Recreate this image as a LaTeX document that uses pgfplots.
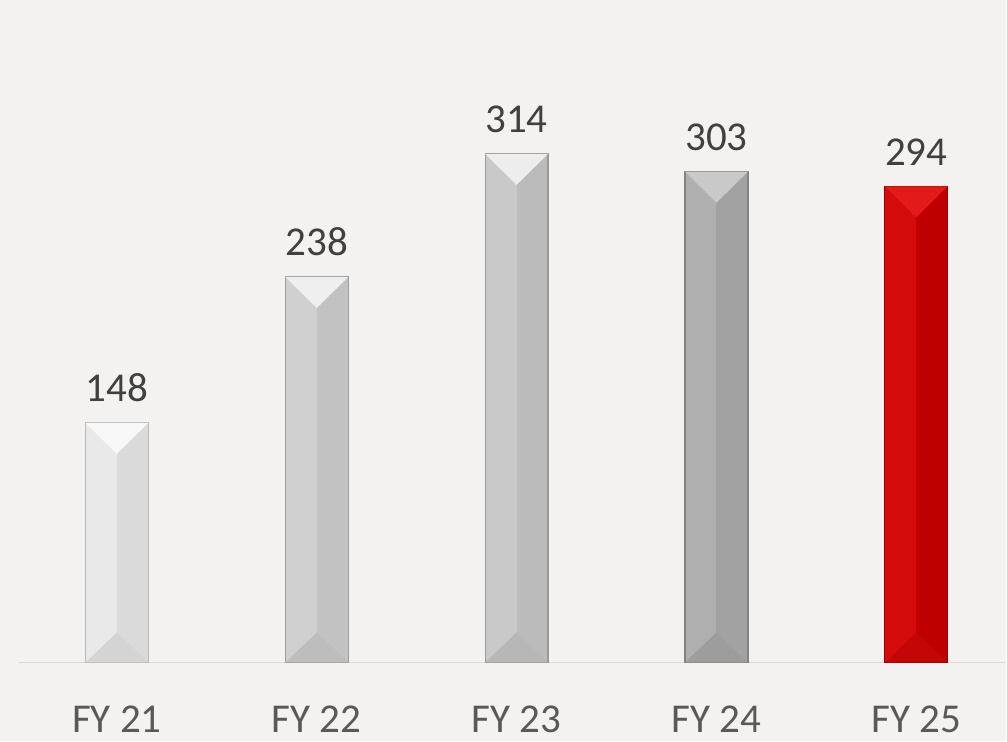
\documentclass[border=0pt]{standalone}
\usepackage{pgfplots}
\pgfplotsset{compat=1.18}
\usepackage{fontspec}
\setmainfont{Carlito}
\usetikzlibrary{calc,backgrounds}

\definecolor{bg}{HTML}{F3F2F0}
\definecolor{lbl}{HTML}{404040}
\definecolor{tck}{HTML}{595959}
% bar shades: left, right, top, bottom, edge
\definecolor{aL}{HTML}{E9E9E9}\definecolor{aR}{HTML}{DADADA}\definecolor{aT}{HTML}{F8F8F8}\definecolor{aB}{HTML}{D4D4D4}\definecolor{aE}{HTML}{B8B8B8}
\definecolor{bL}{HTML}{D0D0D0}\definecolor{bR}{HTML}{C2C2C2}\definecolor{bT}{HTML}{EFEFEF}\definecolor{bB}{HTML}{BDBDBD}\definecolor{bE}{HTML}{9C9C9C}
\definecolor{cL}{HTML}{C9C9C9}\definecolor{cR}{HTML}{BBBBBB}\definecolor{cT}{HTML}{EDEDED}\definecolor{cB}{HTML}{B7B7B7}\definecolor{cE}{HTML}{999999}
\definecolor{dL}{HTML}{AFAFAF}\definecolor{dR}{HTML}{A2A2A2}\definecolor{dT}{HTML}{C9C9C9}\definecolor{dB}{HTML}{9D9D9D}\definecolor{dE}{HTML}{828282}
\definecolor{eL}{HTML}{D50C0C}\definecolor{eR}{HTML}{BF0000}\definecolor{eT}{HTML}{E31A1A}\definecolor{eB}{HTML}{C50606}\definecolor{eE}{HTML}{960000}

% bevel triangles at the top and the foot of a bar
\pgfdeclareplotmark{bevtop}{%
  \pgfpathmoveto{\pgfpoint{-15.75pt}{0pt}}%
  \pgfpathlineto{\pgfpoint{15.75pt}{0pt}}%
  \pgfpathlineto{\pgfpoint{0pt}{-15.5pt}}%
  \pgfpathclose\pgfusepathqfill}
\pgfdeclareplotmark{bevbot}{%
  \pgfpathmoveto{\pgfpoint{-15.75pt}{0pt}}%
  \pgfpathlineto{\pgfpoint{15.75pt}{0pt}}%
  \pgfpathlineto{\pgfpoint{0pt}{15pt}}%
  \pgfpathclose\pgfusepathqfill}

% one bevelled bar: x, value, colour prefix
\newcommand\bevbar[3]{%
  \addplot[fill=#3R, draw=none, bar shift=0pt] coordinates {(#1,#2)};
  \addplot[fill=#3L, draw=none, bar width=15.75pt, bar shift=-7.875pt] coordinates {(#1,#2)};
  \addplot[only marks, mark=bevtop, color=#3T] coordinates {(#1,#2)};
  \addplot[only marks, mark=bevbot, color=#3B] coordinates {(#1,0)};
  \addplot[fill=none, draw=#3E, line width=0.6pt, bar shift=0pt, nodes near coords] coordinates {(#1,#2)};
}

\begin{document}
\begin{tikzpicture}
\begin{axis}[
  scale only axis,
  width=494.5pt, height=331.5pt,
  ybar, bar width=31.5pt,
  xmin=-0.495, xmax=4.45,
  ymin=0, ymax=409,
  axis x line=bottom,
  axis y line=none,
  x axis line style={draw=black!15, line width=0.8pt, -},
  xtick={0,1,2,3,4},
  xticklabels={FY 21, FY 22, FY 23, FY 24, FY 25},
  major tick length=0pt,
  xticklabel style={anchor=base, yshift=-35pt, text=tck,
    font=\fontsize{20.5}{24}\selectfont},
  /pgf/number format/assume math mode=true,
  nodes near coords style={anchor=base, yshift=10.5pt, text=lbl,
    font=\fontsize{20.5}{24}\selectfont},
  clip=false,
]
\bevbar{0}{148}{a}
\bevbar{1}{238}{b}
\bevbar{2}{314}{c}
\bevbar{3}{303}{d}
\bevbar{4}{294}{e}
\end{axis}
\begin{scope}[on background layer]
  \fill[bg] ($(current axis.south west)+(-9pt,-39.5pt)$) rectangle (current axis.north east);
\end{scope}
\end{tikzpicture}
\end{document}
